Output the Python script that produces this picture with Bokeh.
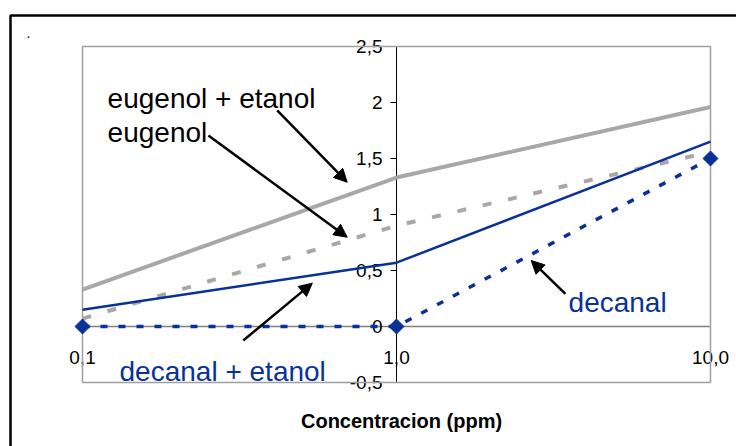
from bokeh.plotting import figure
from bokeh.models import (LinearAxis, FixedTicker, Range1d, Label, Arrow, NormalHead,
                          BoxAnnotation, ColumnDataSource)
from bokeh.embed import file_html
from bokeh.resources import INLINE
import math

# ---- data ----
categories = ["0,1", "1,0", "10,0"]
eugenol_etanol = [0.33, 1.33, 1.96]
eugenol = [0.07, 0.90, 1.56]
decanal_etanol = [0.15, 0.57, 1.65]
decanal = [0.0, 0.0, 1.50]
y_ticks = [-0.5, 0, 0.5, 1, 1.5, 2, 2.5]
y_tick_labels = ["-0,5", "0", "0,5", "1", "1,5", "2", "2,5"]
x_title = "Concentracion (ppm)"

xpos = list(range(len(categories)))
src = ColumnDataSource(dict(x=xpos, ee=eugenol_etanol, e=eugenol,
                            de=decanal_etanol, d=decanal))

GRAY = "#A8A8A8"
NAVY = "#0A3296"
FONT = "Liberation Sans"

# frame covers the whole canvas; plot area (0..2, -0.5..2.5) sits at px 82..710 / 46..382
p = figure(width=736, height=446, output_backend="svg", toolbar_location=None,
           x_axis_location=None, y_axis_location=None,
           x_range=Range1d(-82 / 314, 654 / 314), y_range=Range1d(-120 / 112, 326 / 112),
           min_border_left=0, min_border_right=0, min_border_top=0, min_border_bottom=0)
p.grid.visible = False
p.outline_line_color = None
p.background_fill_color = "white"
p.border_fill_color = "white"

# outer chart border (top and left edges visible)
p.add_layout(BoxAnnotation(left=-72 / 314, right=5, top=311 / 112, bottom=-5,
                           fill_alpha=0, line_color="black", line_alpha=1, line_width=2.5,
                           level="underlay"))
# plot area border
p.add_layout(BoxAnnotation(left=0, right=2, bottom=-0.5, top=2.5,
                           fill_alpha=0, line_color="#A0A0A0", line_alpha=1, line_width=1.5,
                           level="underlay"))

# y axis crossing at category 1,0
yax = LinearAxis(fixed_location=1, bounds=(-0.5, 2.5), ticker=FixedTicker(ticks=y_ticks),
                 major_label_overrides={t: l for t, l in zip(y_ticks, y_tick_labels)})
yax.level = "underlay"
yax.axis_line_color = "black"
yax.major_tick_line_color = "black"
yax.major_tick_out = 6
yax.major_tick_in = 0
yax.minor_tick_out = 0
yax.minor_tick_in = 0
yax.major_label_standoff = 8
yax.major_label_text_font = FONT
yax.major_label_text_font_size = "19px"
yax.major_label_text_color = "black"
p.add_layout(yax, "left")

# x axis crossing at y = 0
xax = LinearAxis(fixed_location=0, bounds=(0, 2), ticker=FixedTicker(ticks=xpos),
                 major_label_overrides={i: c for i, c in zip(xpos, categories)})
xax.level = "underlay"
xax.axis_line_color = "#808080"
xax.axis_line_width = 1.5
xax.major_tick_line_color = "#808080"
xax.major_tick_out = 5
xax.major_tick_in = 0
xax.minor_tick_out = 0
xax.minor_tick_in = 0
xax.major_label_standoff = 19
xax.major_label_text_font = FONT
xax.major_label_text_font_size = "19px"
xax.major_label_text_color = "black"
p.add_layout(xax, "below")

# series
p.line("x", "ee", source=src, line_color=GRAY, line_width=4)
p.line("x", "e", source=src, line_color=GRAY, line_width=4, line_dash="9 17")
p.line("x", "de", source=src, line_color=NAVY, line_width=2.5)
p.line("x", "d", source=src, line_color=NAVY, line_width=3.5, line_dash="7 11")
p.scatter("x", "d", source=src, marker="square", size=10.6, angle=math.pi / 4,
          fill_color=NAVY, line_color=NAVY)

# annotations
def lab(text, x, y, color="black", size="28px", bold=False, align="left"):
    p.add_layout(Label(x=x, y=y, text=text, text_font=FONT, text_font_size=size,
                       text_color=color, text_align=align, text_baseline="alphabetic",
                       text_font_style="bold" if bold else "normal"))

lab("eugenol + etanol", 0.080, 2.036)
lab("eugenol", 0.080, 1.735)
lab("decanal + etanol", 0.118, -0.399, color=NAVY)
lab("decanal", 1.548, 0.217, color=NAVY)
lab(x_title, 1.016, -0.845, size="20px", bold=True, align="center")
lab(".", -0.178, 2.62, size="14px")

def arr(x0, y0, x1, y1):
    p.add_layout(Arrow(x_start=x0, y_start=y0, x_end=x1, y_end=y1,
                       line_color="black", line_width=2.5,
                       end=NormalHead(size=13, fill_color="black", line_color="black")))

arr(0.620, 1.929, 0.843, 1.288)
arr(0.401, 1.705, 0.843, 0.797)
arr(0.512, -0.125, 0.732, 0.387)
arr(1.538, 0.292, 1.429, 0.589)

open("out.html", "w").write(file_html(p, INLINE))
